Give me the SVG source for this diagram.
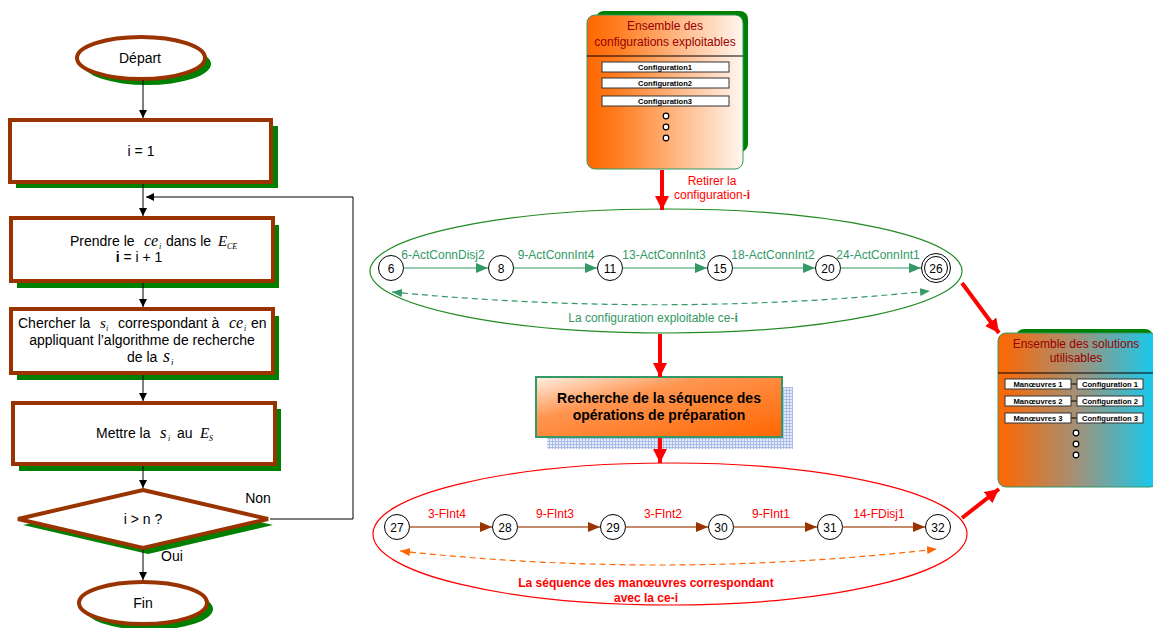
<svg xmlns="http://www.w3.org/2000/svg" width="1153" height="628" viewBox="0 0 1153 628">
<style>
text{font-family:"Liberation Sans",Arial,sans-serif;}
.fc{fill:#fff;stroke:#993300;stroke-width:4;}
.sh{fill:#008000;}
.t13{font-size:14px;fill:#000;}
.m{font-family:"Liberation Serif","Times New Roman",serif;font-style:italic;}
.blk{stroke:#000;stroke-width:1;fill:none;}
.nd{fill:#fff;stroke:#000;stroke-width:1;}
.nt{font-size:12px;fill:#000;text-anchor:middle;}
.ge{stroke:#339966;stroke-width:1.2;fill:none;}
.be{stroke:#B0663A;stroke-width:1.5;fill:none;}
.gl{font-size:12px;fill:#339966;text-anchor:middle;}
.rl{font-size:12px;fill:#FF0000;text-anchor:middle;}
.ra{stroke:#FF0000;stroke-width:4;fill:none;}
.cb{fill:#fff;stroke:#333;stroke-width:1;}
.ct{font-size:7.6px;font-weight:bold;fill:#000;text-anchor:middle;}
.tt{font-size:12px;fill:#990000;text-anchor:middle;}
.dot{fill:#fff;stroke:#000;stroke-width:1.2;}
</style>
<defs>
<marker id="ab" markerWidth="10" markerHeight="10" refX="8" refY="4" orient="auto" markerUnits="userSpaceOnUse"><path d="M0,0 L8,4 L0,8 Z" fill="#000"/></marker>
<marker id="ag" markerWidth="14" markerHeight="12" refX="12" refY="5" orient="auto" markerUnits="userSpaceOnUse"><path d="M0,0 L12,5 L0,10 Z" fill="#339966"/></marker>
<marker id="abr" markerWidth="14" markerHeight="12" refX="12" refY="5" orient="auto" markerUnits="userSpaceOnUse"><path d="M0,0 L12,5 L0,10 Z" fill="#993300"/></marker>
<marker id="agd" markerWidth="12" markerHeight="10" refX="10" refY="4" orient="auto-start-reverse" markerUnits="userSpaceOnUse"><path d="M0,0 L10,4 L0,8 Z" fill="#339966"/></marker>
<marker id="aod" markerWidth="12" markerHeight="10" refX="10" refY="4" orient="auto-start-reverse" markerUnits="userSpaceOnUse"><path d="M0,0 L10,4 L0,8 Z" fill="#FF6600"/></marker>
<marker id="ar" markerWidth="16" markerHeight="16" refX="14" refY="7" orient="auto" markerUnits="userSpaceOnUse"><path d="M0,0 L14,7 L0,14 Z" fill="#FF0000"/></marker>
<linearGradient id="gTop" x1="0" y1="0" x2="1" y2="0"><stop offset="0" stop-color="#FF6600"/><stop offset="0.2" stop-color="#FF7E22"/><stop offset="1" stop-color="#FFF6F0"/></linearGradient>
<linearGradient id="gRight" x1="0" y1="0" x2="1" y2="0"><stop offset="0" stop-color="#FF6600"/><stop offset="0.5" stop-color="#A0927A"/><stop offset="1" stop-color="#10CCF2"/></linearGradient>
<linearGradient id="gMid" x1="0" y1="0" x2="1" y2="1"><stop offset="0" stop-color="#FFF0E6"/><stop offset="0.35" stop-color="#FF9550"/><stop offset="1" stop-color="#FF6600"/></linearGradient>
<pattern id="grid" width="3" height="3" patternUnits="userSpaceOnUse"><rect width="3" height="3" fill="#E6ECF8"/><path d="M0,0.5 H3 M0.5,0 V3" stroke="#9DB2E2" stroke-width="0.8"/></pattern>
</defs>

<!-- Flowchart -->
<g id="depart">
<ellipse cx="147" cy="64" rx="64" ry="21" class="sh"/>
<ellipse cx="141" cy="58" rx="64" ry="21" class="fc"/>
<text x="140" y="63" class="t13" text-anchor="middle">Départ</text>
</g>
<g id="init">
<rect x="16" y="126" width="262" height="62" class="sh"/>
<rect x="10" y="120" width="261" height="62" class="fc"/>
<text x="141" y="156" class="t13" text-anchor="middle">i = 1</text>
</g>
<g id="prendre">
<rect x="17" y="225" width="262" height="63" class="sh"/>
<rect x="11" y="218" width="262" height="63" class="fc"/>
<text y="246" class="t13"><tspan x="70">Prendre le</tspan><tspan x="144" class="m" font-size="16">ce</tspan><tspan x="159" class="m" font-size="8" dy="3">i</tspan><tspan x="166" dy="-3">dans le</tspan><tspan x="218" class="m" font-size="15">E</tspan><tspan x="227" class="m" font-size="8" dy="3">CE</tspan></text>
<text x="139" y="262" class="t13" text-anchor="middle"><tspan font-weight="bold">i</tspan> = i + 1</text>
</g>
<g id="chercher">
<rect x="17" y="316" width="262" height="64" class="sh"/>
<rect x="11" y="309" width="262" height="64" class="fc"/>
<text y="328" class="t13"><tspan x="18">Chercher la</tspan><tspan x="100" class="m" font-size="15">s</tspan><tspan x="106" class="m" font-size="8" dy="3">i</tspan><tspan x="118" dy="-3">correspondant à</tspan><tspan x="229" class="m" font-size="16">ce</tspan><tspan x="244" class="m" font-size="8" dy="3">i</tspan><tspan x="251" dy="-3">en</tspan></text>
<text x="142" y="345" class="t13" text-anchor="middle">appliquant l’algorithme de recherche</text>
<text y="362" class="t13"><tspan x="127">de la</tspan><tspan x="163" class="m" font-size="18">s</tspan><tspan x="171" class="m" font-size="9" dy="3">i</tspan></text>
</g>
<g id="mettre">
<rect x="19" y="409" width="262" height="62" class="sh"/>
<rect x="13" y="403" width="262" height="61" class="fc"/>
<text y="438" class="t13"><tspan x="96">Mettre la</tspan><tspan x="160" class="m" font-size="17">s</tspan><tspan x="168" class="m" font-size="8" dy="3">i</tspan><tspan x="177" dy="-3">au</tspan><tspan x="200" class="m" font-size="15">E</tspan><tspan x="209" class="m" font-size="8" dy="3">S</tspan></text>
</g>
<g id="test">
<path d="M148,496 L273,525 L148,554 L23,525 Z" class="sh"/>
<path d="M143,490 L268,519 L143,548 L18,519 Z" class="fc"/>
<text x="143" y="524" class="t13" text-anchor="middle">i &gt; n ?</text>
</g>
<g id="fin">
<ellipse cx="149" cy="609" rx="64" ry="21" class="sh"/>
<ellipse cx="143" cy="603" rx="64" ry="21" class="fc"/>
<text x="143" y="608" class="t13" text-anchor="middle">Fin</text>
</g>
<g id="flow-connectors">
<line x1="143" y1="80" x2="143" y2="118" class="blk" marker-end="url(#ab)"/>
<line x1="143" y1="184" x2="143" y2="216" class="blk" marker-end="url(#ab)"/>
<line x1="143" y1="283" x2="143" y2="307" class="blk" marker-end="url(#ab)"/>
<line x1="143" y1="375" x2="143" y2="401" class="blk" marker-end="url(#ab)"/>
<line x1="143" y1="466" x2="143" y2="488" class="blk" marker-end="url(#ab)"/>
<line x1="143" y1="550" x2="143" y2="580" class="blk" marker-end="url(#ab)"/>
<polyline points="270,519 353,519 353,197 146,197" class="blk" marker-end="url(#ab)"/>
<text x="258" y="503" class="t13" text-anchor="middle">Non</text>
<text x="172" y="561" class="t13" text-anchor="middle">Oui</text>
</g>

<!-- Top box -->
<g id="configs">
<rect x="596" y="11" width="152" height="141" rx="8" fill="#008000"/>
<rect x="587" y="15" width="156" height="154" rx="8" fill="url(#gTop)" stroke="#339966" stroke-width="1"/>
<text x="665" y="30" class="tt">Ensemble des</text>
<text x="665" y="46" class="tt">configurations exploitables</text>
<line x1="587" y1="56" x2="743" y2="56" stroke="#000" stroke-width="1"/>
<rect x="602" y="62" width="127" height="10" class="cb"/>
<text x="665" y="69.6" class="ct">Configuration1</text>
<rect x="602" y="78" width="127" height="10" class="cb"/>
<text x="665" y="85.6" class="ct">Configuration2</text>
<rect x="602" y="96" width="127" height="10" class="cb"/>
<text x="665" y="103.6" class="ct">Configuration3</text>
<circle cx="666" cy="116" r="2.8" class="dot"/>
<circle cx="666" cy="127" r="2.8" class="dot"/>
<circle cx="666" cy="138" r="2.8" class="dot"/>
</g>

<!-- Right box -->
<g id="solutions">
<rect x="1016" y="329" width="137" height="140" rx="8" fill="#008000"/>
<rect x="998" y="333" width="160" height="154" rx="8" fill="url(#gRight)" stroke="#339966" stroke-width="1"/>
<text x="1076" y="348" class="tt">Ensemble des solutions</text>
<text x="1076" y="362" class="tt">utilisables</text>
<line x1="998" y1="373" x2="1153" y2="373" stroke="#000" stroke-width="1"/>
<line x1="1071" y1="384" x2="1077" y2="384" stroke="#000"/>
<line x1="1071" y1="401" x2="1077" y2="401" stroke="#000"/>
<line x1="1071" y1="418" x2="1077" y2="418" stroke="#000"/>
<rect x="1005" y="379" width="66" height="10" class="cb"/>
<text x="1038" y="386.6" class="ct">Manœuvres 1</text>
<rect x="1077" y="379" width="66" height="10" class="cb"/>
<text x="1110" y="386.6" class="ct">Configuration 1</text>
<rect x="1005" y="396" width="66" height="10" class="cb"/>
<text x="1038" y="403.6" class="ct">Manœuvres 2</text>
<rect x="1077" y="396" width="66" height="10" class="cb"/>
<text x="1110" y="403.6" class="ct">Configuration 2</text>
<rect x="1005" y="413" width="66" height="10" class="cb"/>
<text x="1038" y="420.6" class="ct">Manœuvres 3</text>
<rect x="1077" y="413" width="66" height="10" class="cb"/>
<text x="1110" y="420.6" class="ct">Configuration 3</text>
<circle cx="1076" cy="433" r="2.8" class="dot"/>
<circle cx="1076" cy="444" r="2.8" class="dot"/>
<circle cx="1076" cy="455" r="2.8" class="dot"/>
</g>

<!-- Center box -->
<g id="recherche">
<rect x="547" y="387" width="246" height="62" fill="url(#grid)"/>
<rect x="536" y="377" width="246" height="60" fill="url(#gMid)" stroke="#339966" stroke-width="2"/>
<text x="659" y="403" font-size="14" font-weight="bold" text-anchor="middle" fill="#000">Recherche de la séquence des</text>
<text x="659" y="420" font-size="14" font-weight="bold" text-anchor="middle" fill="#000">opérations de préparation</text>
</g>

<!-- Green ellipse group -->
<g id="config-ellipse">
<ellipse cx="666" cy="271" rx="296" ry="62" fill="none" stroke="#228B22" stroke-width="1.2"/>
<text x="653" y="322" class="gl">La configuration exploitable ce-<tspan font-weight="bold">i</tspan></text>
</g>
<g id="n6"><circle cx="391" cy="268" r="12.5" class="nd"/><text x="391" y="272.5" class="nt">6</text></g>
<g id="n8"><circle cx="501" cy="268" r="12.5" class="nd"/><text x="501" y="272.5" class="nt">8</text></g>
<g id="n11"><circle cx="610" cy="268" r="12.5" class="nd"/><text x="610" y="272.5" class="nt">11</text></g>
<g id="n15"><circle cx="720" cy="268" r="12.5" class="nd"/><text x="720" y="272.5" class="nt">15</text></g>
<g id="n20"><circle cx="828" cy="268" r="12.5" class="nd"/><text x="828" y="272.5" class="nt">20</text></g>
<g id="n26"><circle cx="936" cy="268" r="14.5" class="nd"/><circle cx="936" cy="268" r="11.5" class="nd"/><text x="936" y="272.5" class="nt">26</text></g>

<!-- Red ellipse group -->
<g id="sequence-ellipse">
<ellipse cx="670" cy="534" rx="297" ry="71" fill="none" stroke="#FF0000" stroke-width="1.2"/>
<text x="646" y="587" font-size="12" font-weight="bold" fill="#FF0000" text-anchor="middle">La séquence des manœuvres correspondant</text>
<text x="646" y="602" font-size="12" font-weight="bold" fill="#FF0000" text-anchor="middle">avec la ce-i</text>
</g>
<g id="n27"><circle cx="397" cy="527" r="12.5" class="nd"/><text x="397" y="531.5" class="nt">27</text></g>
<g id="n28"><circle cx="505" cy="527" r="12.5" class="nd"/><text x="505" y="531.5" class="nt">28</text></g>
<g id="n29"><circle cx="613" cy="527" r="12.5" class="nd"/><text x="613" y="531.5" class="nt">29</text></g>
<g id="n30"><circle cx="721" cy="527" r="12.5" class="nd"/><text x="721" y="531.5" class="nt">30</text></g>
<g id="n31"><circle cx="830" cy="527" r="12.5" class="nd"/><text x="830" y="531.5" class="nt">31</text></g>
<g id="n32"><circle cx="938" cy="527" r="12.5" class="nd"/><text x="938" y="531.5" class="nt">32</text></g>

<g id="connectors">
<line x1="403.5" y1="268" x2="488" y2="268" class="ge" marker-end="url(#ag)"/>
<line x1="513.5" y1="268" x2="597" y2="268" class="ge" marker-end="url(#ag)"/>
<line x1="622.5" y1="268" x2="707" y2="268" class="ge" marker-end="url(#ag)"/>
<line x1="732.5" y1="268" x2="815" y2="268" class="ge" marker-end="url(#ag)"/>
<line x1="840.5" y1="268" x2="921" y2="268" class="ge" marker-end="url(#ag)"/>
<text x="443" y="259" class="gl">6-ActConnDisj2</text>
<text x="556" y="259" class="gl">9-ActConnInt4</text>
<text x="664" y="259" class="gl">13-ActConnInt3</text>
<text x="773" y="259" class="gl">18-ActConnInt2</text>
<text x="878" y="259" class="gl">24-ActConnInt1</text>
<path d="M392,292 Q664,318 930,291" fill="none" stroke="#339966" stroke-width="1.2" stroke-dasharray="6,4" marker-start="url(#agd)" marker-end="url(#agd)"/>

<line x1="409.5" y1="527" x2="492" y2="527" class="be" marker-end="url(#abr)"/>
<line x1="517.5" y1="527" x2="600" y2="527" class="be" marker-end="url(#abr)"/>
<line x1="625.5" y1="527" x2="708" y2="527" class="be" marker-end="url(#abr)"/>
<line x1="733.5" y1="527" x2="817" y2="527" class="be" marker-end="url(#abr)"/>
<line x1="842.5" y1="527" x2="925" y2="527" class="be" marker-end="url(#abr)"/>
<text x="447" y="518" class="rl">3-FInt4</text>
<text x="555" y="518" class="rl">9-FInt3</text>
<text x="663" y="518" class="rl">3-FInt2</text>
<text x="771" y="518" class="rl">9-FInt1</text>
<text x="879" y="518" class="rl">14-FDisj1</text>
<path d="M400,551 Q668,580 937,549" fill="none" stroke="#FF6600" stroke-width="1.2" stroke-dasharray="6,4" marker-start="url(#aod)" marker-end="url(#aod)"/>

<line x1="662" y1="170" x2="662" y2="210" class="ra" marker-end="url(#ar)"/>
<text x="712" y="185" class="rl">Retirer la</text>
<text x="712" y="199" class="rl">configuration-<tspan font-weight="bold">i</tspan></text>
<line x1="660" y1="334" x2="660" y2="377" class="ra" marker-end="url(#ar)"/>
<line x1="660" y1="438" x2="660" y2="463" class="ra" marker-end="url(#ar)"/>
<line x1="962" y1="283" x2="999" y2="333" class="ra" marker-end="url(#ar)"/>
<line x1="962" y1="518" x2="999" y2="489" class="ra" marker-end="url(#ar)"/>
</g>
</svg>
